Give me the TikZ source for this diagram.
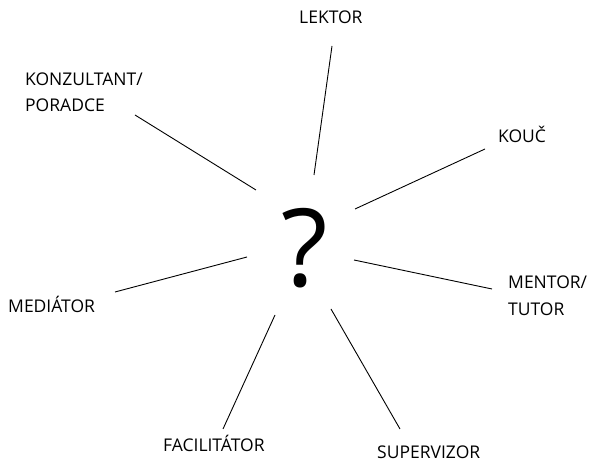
\documentclass[tikz,border=0pt]{standalone}
\usepackage{fontspec}
\setmainfont{Open Sans}
\begin{document}
\begin{tikzpicture}[x=1pt,y=-1pt,
  lbl/.style={font=\fontsize{17.5}{26.5}\selectfont, inner sep=0pt, align=left, anchor=base west},
  spoke/.style={draw=black, line width=0.9pt}]
\useasboundingbox (0,0) rectangle (590,462);
\node[font=\fontsize{108}{108}\selectfont, inner sep=0pt] (q) at (305,248) {?};
\node[lbl] (lek) at (299,24) {LEKTOR};
\node[lbl] (kon) at (25,86) {KONZULTANT/};
\node[lbl] (kon2) at (25,112) {PORADCE};
\node[lbl] (kou) at (498,143) {KOUČ};
\node[lbl] (men) at (508,289) {MENTOR/};
\node[lbl] (men2) at (508,316) {TUTOR};
\node[lbl] (med) at (8,313) {MEDIÁTOR};
\node[lbl] (fac) at (163,452) {FACILITÁTOR};
\node[lbl] (sup) at (377,459) {SUPERVIZOR};
\coordinate (lekA) at (332,46);  \coordinate (lekB) at (314,175);
\coordinate (konA) at (135,115); \coordinate (konB) at (256,190);
\coordinate (kouA) at (485,149); \coordinate (kouB) at (355,209);
\coordinate (menA) at (492,289); \coordinate (menB) at (354,260);
\coordinate (supA) at (400,429); \coordinate (supB) at (331,309);
\coordinate (facA) at (223,429); \coordinate (facB) at (275,315);
\coordinate (medA) at (115,292); \coordinate (medB) at (247,257);
\draw[spoke] (lekA) -- (lekB);
\draw[spoke] (konA) -- (konB);
\draw[spoke] (kouA) -- (kouB);
\draw[spoke] (menA) -- (menB);
\draw[spoke] (supA) -- (supB);
\draw[spoke] (facA) -- (facB);
\draw[spoke] (medA) -- (medB);
\end{tikzpicture}
\end{document}
